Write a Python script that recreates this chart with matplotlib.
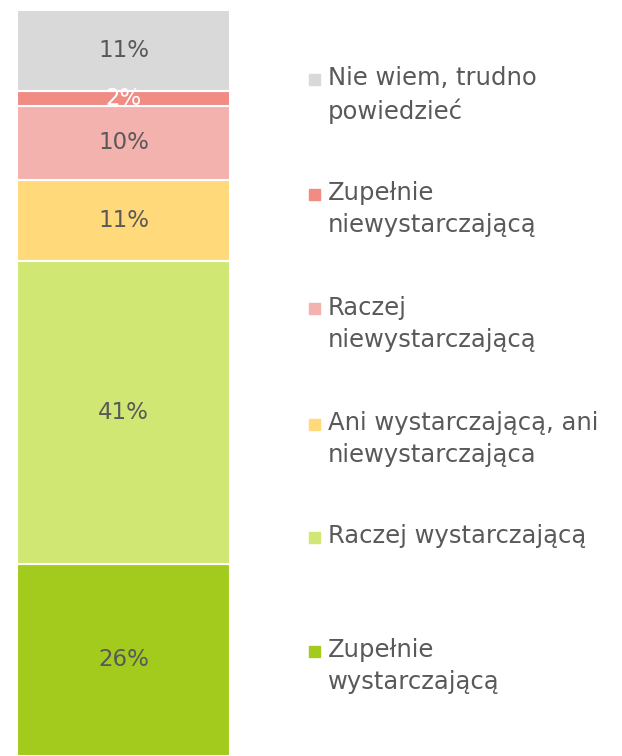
import matplotlib
matplotlib.use('Agg')
import matplotlib.pyplot as plt
from matplotlib.patches import Rectangle

# stacked from bottom to top
categories = ['Zupełnie\nwystarczającą',
              'Raczej wystarczającą',
              'Ani wystarczającą, ani\nniewystarczająca',
              'Raczej\nniewystarczającą',
              'Zupełnie\nniewystarczającą',
              'Nie wiem, trudno\npowiedzieć']
values = [26, 41, 11, 10, 2, 11]
colors = ['#A2CB1E', '#D0E873', '#FFD97A', '#F4B2AE', '#F08C84', '#D9D9D9']
label_colors = ['#595959', '#595959', '#595959', '#595959', 'white', '#595959']

W, H = 622, 756
fig = plt.figure(figsize=(W / 100, H / 100), dpi=100)
plt.rcParams['font.family'] = ['DejaVu Sans']

# axes covering the bar only
ax = fig.add_axes([17 / W, 0, (230 - 17) / W, (H - 10) / H])
bottom = 0
for v, c, lc in zip(values, colors, label_colors):
    ax.bar(0, v, bottom=bottom, width=1.0, color=c, edgecolor='white', linewidth=1.5)
    ax.text(0, bottom + v / 2, f'{v}%', ha='center', va='center',
            fontsize=16.5, color=lc)
    bottom += v
ax.set_xlim(-0.5, 0.5)
ax.set_ylim(0, sum(values))
ax.axis('off')

# legend on the right, top entry first
legend_y = [79, 194, 309, 424, 537, 651]
for lab, c, y in zip(categories[::-1], colors[::-1], legend_y):
    fig.patches.append(Rectangle((309 / W, 1 - (y + 5.5) / H), 11 / W, 11 / H,
                                 transform=fig.transFigure, color=c))
    fig.text(328 / W, 1 - (y - 13) / H, lab, ha='left', va='top',
             fontsize=17.5, color='#595959', linespacing=1.4)

plt.savefig('out.png', dpi=100)
